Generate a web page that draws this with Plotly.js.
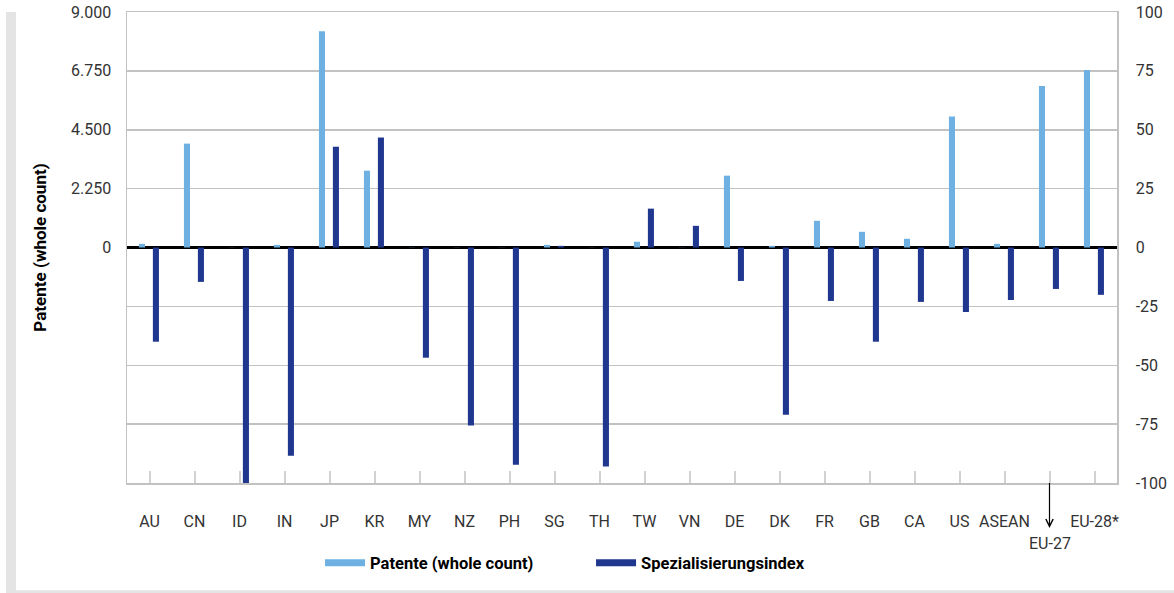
<!DOCTYPE html>
<html>
<head>
<meta charset="utf-8">
<script src="https://cdn.plot.ly/plotly-3.0.1.min.js"></script>
<style>
html,body{margin:0;padding:0;background:#fff;}
#chart{width:1174px;height:593px;}
</style>
</head>
<body>
<div id="chart"></div>
<script>
// ---- data ----
const categories = ['AU','CN','ID','IN','JP','KR','MY','NZ','PH','SG','TH','TW','VN','DE','DK','FR','GB','CA','US','ASEAN','EU-27','EU-28*'];
const patente = [140, 3970, 5, 100, 8260, 2935, 5, 5, 5, 100, 5, 220, 5, 2745, 65, 1020, 600, 333, 5005, 140, 6170, 6780];
const spezIndex = [-40, -14.6, -100, -88.4, 42.8, 46.7, -46.8, -75.6, -92.2, 0.7, -93, 16.5, 9.2, -14.2, -71, -22.7, -40, -23.1, -27.4, -22.3, -17.6, -20.1];
const leftTicks = [0, 2250, 4500, 6750, 9000];
const rightTicks = [-100, -75, -50, -25, 0, 25, 50, 75, 100];
const hiddenCategory = 'EU-27';
const seriesNames = ['Patente (whole count)', 'Spezialisierungsindex'];
const leftTitle = 'Patente (whole count)';

// ---- styles ----
const LIGHT = '#6FB0E2';
const DARK = '#1F378F';
const FONT = 'Roboto, "Open Sans", sans-serif';
const GRID = '#C2C2C2';
const TICKC = '#D2D2D2';

const catIdx = categories.map((c, i) => i);

const traces = [
  {type:'bar', x:categories, y:patente, yaxis:'y', name:seriesNames[0],
   marker:{color:LIGHT}, width:0.135, offset:-0.235, showlegend:false, hoverinfo:'x+y'},
  {type:'bar', x:categories, y:spezIndex, yaxis:'y2', name:seriesNames[1],
   marker:{color:DARK}, width:0.135, offset:0.075, showlegend:false, hoverinfo:'x+y'},
  // legend entries (line swatches)
  {type:'scatter', mode:'lines', x:[null], y:[null], name:seriesNames[0], line:{color:LIGHT, width:7}, hoverinfo:'skip'},
  {type:'scatter', mode:'lines', x:[null], y:[null], name:seriesNames[1], line:{color:DARK, width:7}, hoverinfo:'skip'}
];

const layout = {
  width:1174, height:593,
  margin:{l:127, r:57, t:12, b:110},
  paper_bgcolor:'#fff', plot_bgcolor:'#fff',
  separators:',.',
  font:{family:FONT, size:16, color:'#333'},
  showlegend:true,
  legend:{orientation:'h', x:0.195, xanchor:'left', y:-0.17, yanchor:'middle',
          font:{family:FONT, size:16.5, color:'#000', weight:'bold'},
          itemwidth:40, entrywidth:216, entrywidthmode:'pixels', bgcolor:'rgba(0,0,0,0)'},
  xaxis:{type:'category', categoryorder:'array', categoryarray:categories,
         range:[-0.5, categories.length-0.5],
         tickvals:categories, ticktext:categories.map(c => c === hiddenCategory ? '' : c),
         ticks:'inside', ticklen:12, tickwidth:2, tickcolor:TICKC,
         ticklabelstandoff:23,
         showline:true, linecolor:GRID, linewidth:1.5, mirror:true,
         showgrid:false, zeroline:false,
         tickfont:{family:FONT, size:16, color:'#333'}},
  xaxis2:{overlaying:'x', anchor:'free', position:0.5, side:'bottom',
          range:[-0.5, categories.length-0.5], tickvals:catIdx,
          ticks:'inside', ticklen:12, tickwidth:2, tickcolor:TICKC,
          showticklabels:false, showline:false, showgrid:false, zeroline:false},
  yaxis:{range:[-leftTicks[leftTicks.length-1], leftTicks[leftTicks.length-1]],
         tickvals:leftTicks, tickformat:',d',
         showgrid:false, zeroline:false,
         showline:true, linecolor:GRID, linewidth:1.5,
         ticks:'', ticklabelstandoff:11,
         tickfont:{family:FONT, size:16, color:'#333'},
         title:{text:leftTitle, standoff:20, font:{family:FONT, size:17, color:'#000', weight:'bold'}}},
  yaxis2:{overlaying:'y', side:'right', range:[rightTicks[0], rightTicks[rightTicks.length-1]],
          tickvals:rightTicks, ticktext:rightTicks.map(v => String(v)),
          showgrid:true, gridcolor:GRID, gridwidth:1.5,
          zeroline:true, zerolinecolor:'#000', zerolinewidth:2.5,
          showline:true, linecolor:GRID, linewidth:1.5,
          ticks:'', ticklabelstandoff:14,
          tickfont:{family:FONT, size:16, color:'#333'}},
  annotations:[
    {xref:'x', yref:'paper', x:hiddenCategory, y:0, text:hiddenCategory,
     showarrow:true, arrowside:'start', startarrowhead:5, startarrowsize:1.2,
     arrowwidth:1.2, arrowcolor:'#000', ax:0, ay:60, standoff:0, startstandoff:4,
     font:{family:FONT, size:16, color:'#333'}}
  ],
  shapes:[
    {type:'rect', xref:'paper', yref:'paper', x0:-0.1222, x1:-0.1121, y0:-0.234, y1:1.0,
     fillcolor:'#E4E4E4', line:{width:0}, layer:'below'},
    {type:'rect', xref:'paper', yref:'paper', x0:-0.1121, x1:1.06, y0:-0.234, y1:-0.2275,
     fillcolor:'#E4E4E4', line:{width:0}, layer:'below'}
  ]
};

Plotly.newPlot('chart', traces, layout, {displayModeBar:false, staticPlot:true});
</script>
</body>
</html>
